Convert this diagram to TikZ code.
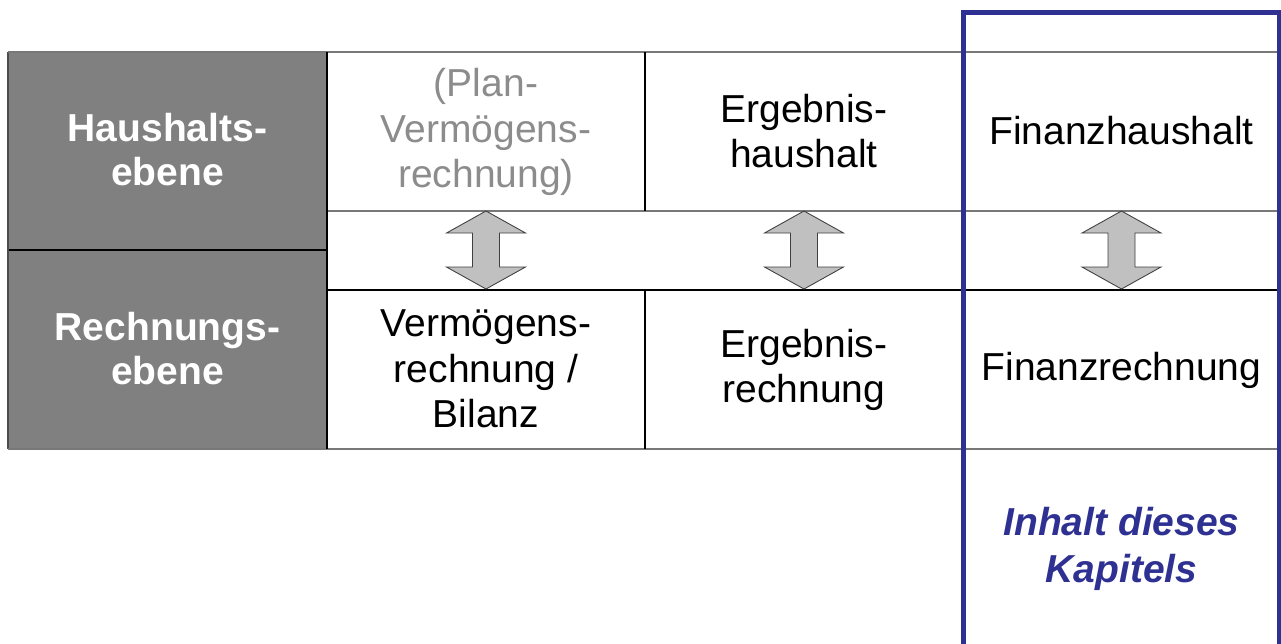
\documentclass[tikz,border=0pt]{standalone}
\usepackage{fontspec}
\setmainfont{Liberation Sans}
\definecolor{kapitelblau}{RGB}{46,49,146}
\definecolor{kopfgrau}{RGB}{128,128,128}
\definecolor{pfeilgrau}{RGB}{192,192,192}
\definecolor{linegrau}{RGB}{120,120,120}
\definecolor{textgrau}{RGB}{140,140,140}
\tikzset{
  cell/.style={align=center, inner sep=0pt, font=\fontsize{22.2}{26}\selectfont},
  headtext/.style={cell, text=white, font=\fontsize{22.2}{25}\selectfont\bfseries},
  greyrule/.style={draw=linegrau, line width=0.9pt},
  blackrule/.style={draw=black, line width=0.6pt},
  framebox/.style={draw=kapitelblau, line width=0.1cm},
  arrowbody/.style={fill=pfeilgrau, draw=black!75, line width=0.5pt, line join=miter},
  updown/.pic={
    \path[arrowbody] (0,-39) -- (39.5,-17) -- (13.5,-17) -- (13.5,17) -- (39.5,17)
      -- (0,39) -- (-39.5,17) -- (-13.5,17) -- (-13.5,-17) -- (-39.5,-17) -- cycle;
  }
}
\begin{document}
\begin{tikzpicture}[x=0.02cm, y=-0.02cm]
\useasboundingbox (0,0) rectangle (1281,643);
\clip (0,0) rectangle (1281,643);

% header column
\fill[kopfgrau] (8,52) rectangle (327,449);
\draw[blackrule] (8,250) -- (327,250);
\draw[draw=black!70, line width=0.6pt] (8,52) -- (8,449);

% horizontal rules of the table
\draw[greyrule] (8,52) -- (1280,52);
\draw[greyrule] (327,211) -- (1280,211);
\draw[blackrule] (327,290) -- (1280,290);
\draw[greyrule] (8,449) -- (1280,449);

% vertical rules of the table
\draw[blackrule] (327,52) -- (327,449);
\draw[blackrule] (645,52) -- (645,211);
\draw[blackrule] (645,290) -- (645,449);

% header labels
\node[headtext] (haushaltsebene) at (167.5,150) {Haushalts-\\ebene};
\node[headtext] (rechnungsebene) at (167.5,349) {Rechnungs-\\ebene};

% upper level
\node[cell, text=textgrau] (planvr) at (486,132) {(Plan-\\Vermögens-\\rechnung)};
\node[cell] (ergebnishh) at (804,131) {Ergebnis-\\haushalt};
\node[cell] (finanzhh) at (1121.5,131) {Finanzhaushalt};

% lower level
\node[cell] (vermoegen) at (486,369) {Vermögens-\\rechnung /\\Bilanz};
\node[cell] (ergebnisr) at (804,370) {Ergebnis-\\rechnung};
\node[cell] (finanzr) at (1121.5,370) {Finanzrechnung};

% links between the levels
\pic at (486,250) {updown};
\pic at (804,250) {updown};
\pic at (1121.5,250) {updown};

% frame around the chapter column
\draw[framebox] (963.5,12) rectangle (1279.5,700);
\node[cell, text=kapitelblau, font=\fontsize{22.2}{26.5}\selectfont\bfseries\itshape]
  (kapitel) at (1121.5,549) {Inhalt dieses\\Kapitels};
\end{tikzpicture}
\end{document}
